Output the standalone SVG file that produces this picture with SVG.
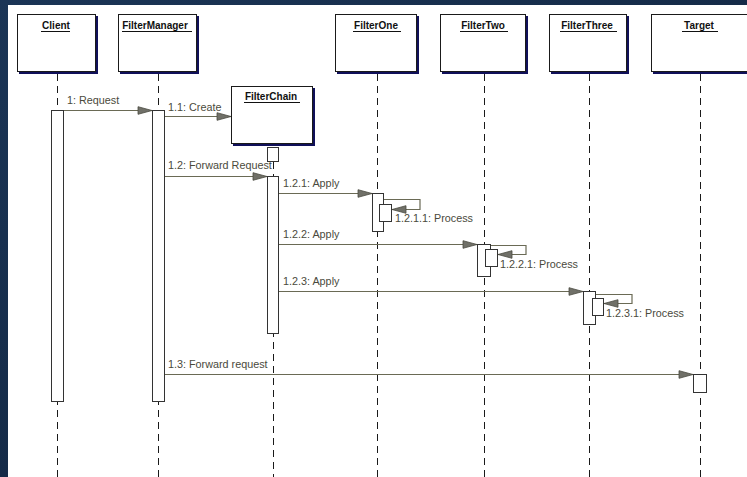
<svg xmlns="http://www.w3.org/2000/svg" width="747" height="477" viewBox="0 0 747 477">
  <style>
    .obj { fill: #ffffff; stroke: #1a1a1a; stroke-width: 1; }
    .shadow { fill: #10105a; }
    .title { font-family: "Liberation Sans", Arial, sans-serif; font-size: 10px; font-weight: bold; fill: #111111; text-anchor: middle; }
    .uline { stroke: #111111; stroke-width: 1; }
    .life { stroke: #1a1a1a; stroke-width: 1; stroke-dasharray: 7 5; fill: none; }
    .act { fill: #ffffff; stroke: #333333; stroke-width: 1; }
    .msg { stroke: #6a6a55; stroke-width: 1.2; fill: none; }
    .lbl { font-family: "Liberation Sans", Arial, sans-serif; font-size: 10.8px; fill: #4a4a3c; }
  </style>
  <defs>
    <linearGradient id="bg" x1="0" y1="0" x2="1" y2="1">
      <stop offset="0" stop-color="#1b3556"/>
      <stop offset="0.5" stop-color="#152b48"/>
      <stop offset="1" stop-color="#10233c"/>
    </linearGradient>
    <marker id="head" markerWidth="16" markerHeight="10" refX="15" refY="5" orient="auto" markerUnits="userSpaceOnUse">
      <path d="M1,1.2 L15,5 L1,8.8 Z" fill="#707068" stroke="#4a4a40" stroke-width="0.8"/>
    </marker>
  </defs>

  <!-- frame -->
  <rect x="0" y="0" width="747" height="477" fill="url(#bg)"/>
  <rect x="8" y="5" width="739" height="472" fill="#ffffff"/>

  <!-- lifelines -->
  <g id="lifelines">
    <line class="life" x1="57.5" y1="74" x2="57.5" y2="477"/>
    <line class="life" x1="158.5" y1="74" x2="158.5" y2="477"/>
    <line class="life" x1="273.5" y1="162" x2="273.5" y2="477"/>
    <line class="life" x1="377.5" y1="74" x2="377.5" y2="477"/>
    <line class="life" x1="484.5" y1="74" x2="484.5" y2="477"/>
    <line class="life" x1="589.5" y1="74" x2="589.5" y2="477"/>
    <line class="life" x1="700.5" y1="74" x2="700.5" y2="477"/>
  </g>

  <!-- objects -->
  <g id="client">
    <rect class="shadow" x="19" y="16" width="79" height="58"/>
    <rect class="obj" x="17.5" y="14.5" width="78" height="57"/>
    <text class="title" x="56" y="29">Client</text>
    <line class="uline" x1="41" y1="31.5" x2="70" y2="31.5"/>
  </g>
  <g id="filterManager">
    <rect class="shadow" x="120" y="16" width="79" height="58"/>
    <rect class="obj" x="118.5" y="14.5" width="78" height="57"/>
    <text class="title" x="155" y="29">FilterManager</text>
    <line class="uline" x1="122" y1="31.5" x2="192" y2="31.5"/>
  </g>
  <g id="filterChain">
    <rect class="shadow" x="233" y="88" width="82" height="58"/>
    <rect class="obj" x="231.5" y="86.5" width="81" height="57"/>
    <text class="title" x="271" y="100">FilterChain</text>
    <line class="uline" x1="244" y1="102.5" x2="300" y2="102.5"/>
  </g>
  <g id="filterOne">
    <rect class="shadow" x="337" y="16" width="82" height="58"/>
    <rect class="obj" x="335.5" y="14.5" width="81" height="57"/>
    <text class="title" x="376" y="29">FilterOne</text>
    <line class="uline" x1="353" y1="31.5" x2="401" y2="31.5"/>
  </g>
  <g id="filterTwo">
    <rect class="shadow" x="442" y="16" width="86" height="58"/>
    <rect class="obj" x="440.5" y="14.5" width="85" height="57"/>
    <text class="title" x="483" y="29">FilterTwo</text>
    <line class="uline" x1="460" y1="31.5" x2="508" y2="31.5"/>
  </g>
  <g id="filterThree">
    <rect class="shadow" x="551" y="16" width="78" height="58"/>
    <rect class="obj" x="549.5" y="14.5" width="77" height="57"/>
    <text class="title" x="587" y="29">FilterThree</text>
    <line class="uline" x1="560" y1="31.5" x2="617" y2="31.5"/>
  </g>
  <g id="target">
    <rect class="shadow" x="653" y="16" width="100" height="58"/>
    <rect class="obj" x="651.5" y="14.5" width="100" height="57"/>
    <text class="title" x="699" y="29">Target</text>
    <line class="uline" x1="682" y1="31.5" x2="718" y2="31.5"/>
  </g>

  <!-- activations -->
  <g id="activations">
    <rect class="act" x="51.5" y="110.5" width="12" height="291"/>
    <rect class="act" x="152.5" y="110.5" width="12" height="291"/>
    <rect class="act" x="267.5" y="147.5" width="11" height="14"/>
    <rect class="act" x="267.5" y="176.5" width="11" height="157"/>
    <rect class="act" x="372.5" y="193.5" width="11" height="38"/>
    <rect class="act" x="379.5" y="204.5" width="12" height="17"/>
    <rect class="act" x="477.5" y="244.5" width="13" height="32"/>
    <rect class="act" x="485.5" y="249.5" width="12" height="17"/>
    <rect class="act" x="583.5" y="291.5" width="12" height="33"/>
    <rect class="act" x="592.5" y="298.5" width="11" height="17"/>
    <rect class="act" x="693.5" y="374.5" width="13" height="18"/>
  </g>

  <!-- messages -->
  <g id="connectors">
    <line class="msg" x1="64" y1="110.5" x2="152" y2="110.5" marker-end="url(#head)"/>
    <line class="msg" x1="165" y1="116.5" x2="231" y2="116.5" marker-end="url(#head)"/>
    <line class="msg" x1="165" y1="176.5" x2="267" y2="176.5" marker-end="url(#head)"/>
    <line class="msg" x1="279" y1="193.5" x2="372" y2="193.5" marker-end="url(#head)"/>
    <polyline class="msg" points="384,199.5 420,199.5 420,209.5 392,209.5" marker-end="url(#head)"/>
    <line class="msg" x1="279" y1="244.5" x2="477" y2="244.5" marker-end="url(#head)"/>
    <polyline class="msg" points="491,245.5 526,245.5 526,254.5 498,254.5" marker-end="url(#head)"/>
    <line class="msg" x1="279" y1="291.5" x2="583" y2="291.5" marker-end="url(#head)"/>
    <polyline class="msg" points="596,294.5 632,294.5 632,303.5 604,303.5" marker-end="url(#head)"/>
    <line class="msg" x1="165" y1="374.5" x2="693" y2="374.5" marker-end="url(#head)"/>
  </g>

  <!-- message labels -->
  <g id="labels">
    <text class="lbl" x="67" y="104">1: Request</text>
    <text class="lbl" x="168" y="111">1.1: Create</text>
    <text class="lbl" x="168" y="169">1.2: Forward Request</text>
    <text class="lbl" x="283" y="187">1.2.1: Apply</text>
    <text class="lbl" x="395" y="222">1.2.1.1: Process</text>
    <text class="lbl" x="283" y="238">1.2.2: Apply</text>
    <text class="lbl" x="500" y="268">1.2.2.1: Process</text>
    <text class="lbl" x="283" y="285">1.2.3: Apply</text>
    <text class="lbl" x="606" y="317">1.2.3.1: Process</text>
    <text class="lbl" x="168" y="368">1.3: Forward request</text>
  </g>
</svg>
